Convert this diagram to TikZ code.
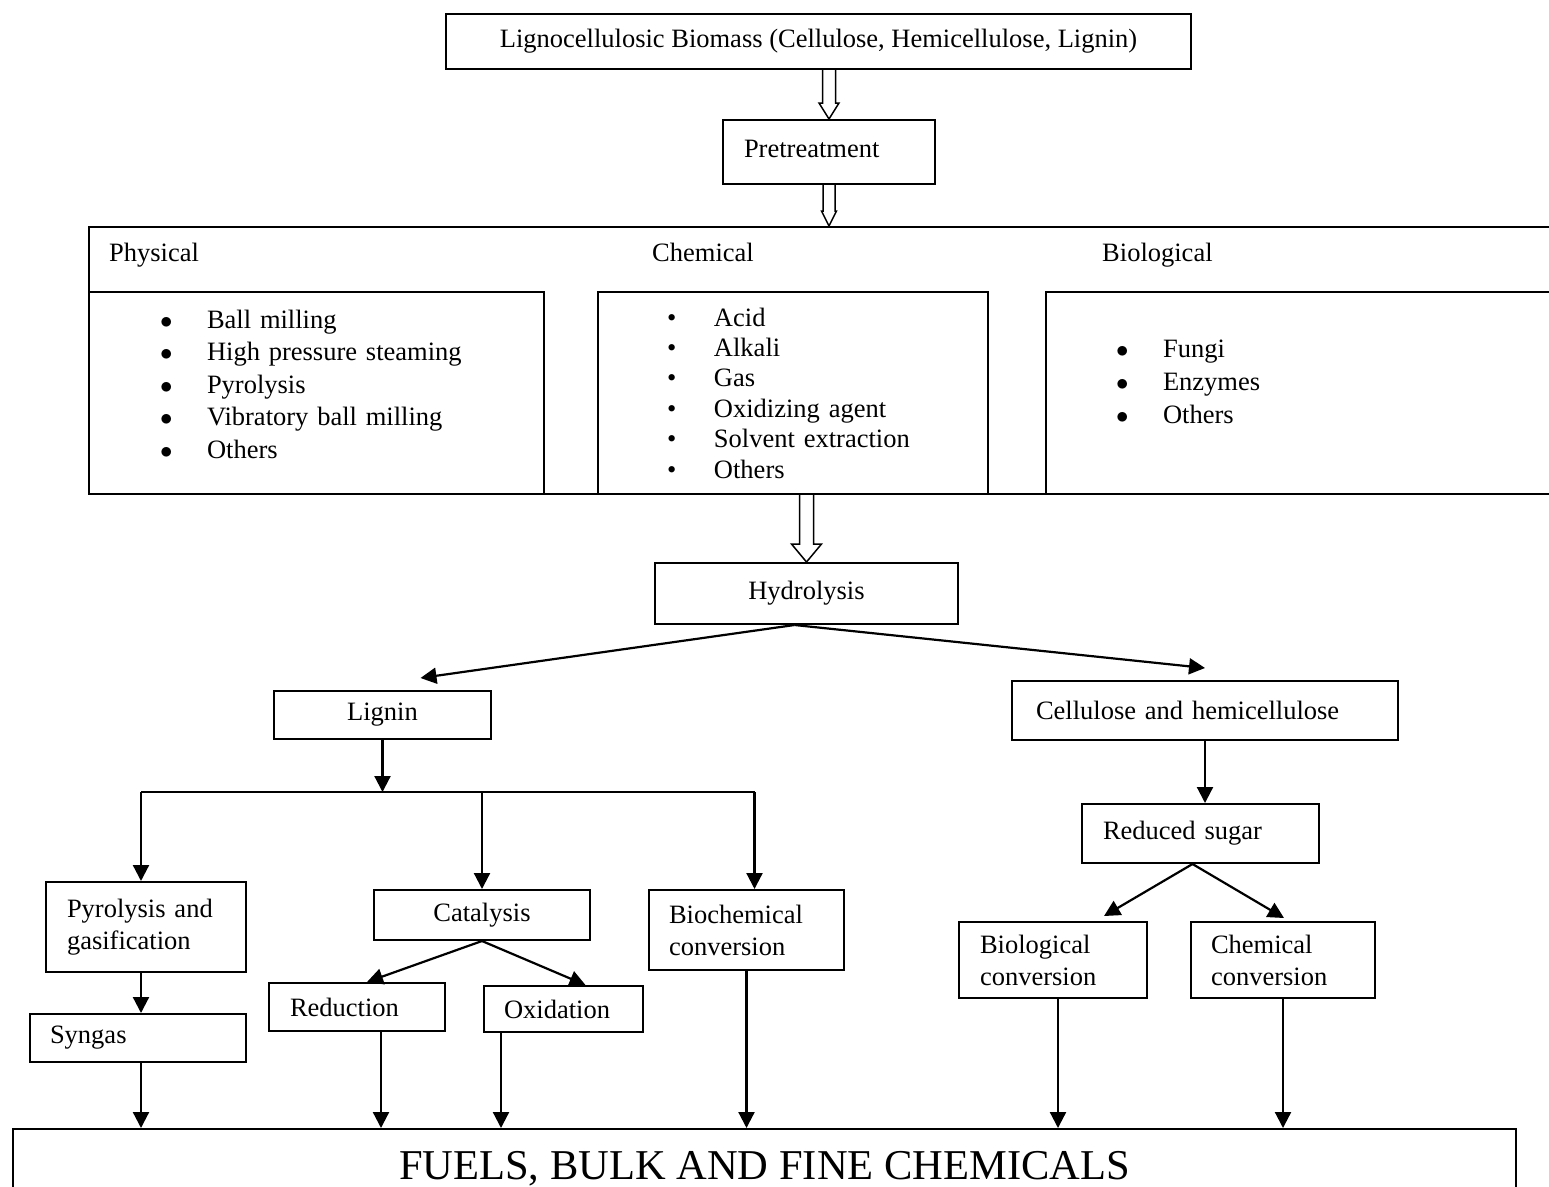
\documentclass[tikz,border=0pt]{standalone}
\usepackage{fontspec}
\setmainfont{Liberation Serif}
\usetikzlibrary{arrows.meta,calc}

% broad open arrow: start, tip, shaft half width, head half width, head length
\newcommand{\hollowarrow}[5]{%
  \draw[hollow] ($(#1)+(-#3,0)$) -- ($(#2)+(-#3,-#5)$) -- ($(#2)+(-#4,-#5)$) -- (#2)
    -- ($(#2)+(#4,-#5)$) -- ($(#2)+(#3,-#5)$) -- ($(#1)+(#3,0)$);}
\newcommand{\bigdot}{\makebox[47pt][l]{$\bullet$}}
\newcommand{\smalldot}{\makebox[47pt][l]{\textbullet}}

\begin{document}
\begin{tikzpicture}[x=1pt, y=-1pt,
    box/.style={draw, line width=2pt, anchor=north west, inner sep=0pt, align=left,
      font=\fontsize{26.5}{32}\selectfont},
    head/.style={anchor=base west, inner sep=0pt, font=\fontsize{26.5}{32}\selectfont},
    arr/.style={line width=2.2pt, -{Triangle[length=16pt,width=16pt]}},
    hollow/.style={line width=1.5pt, fill=white, line join=miter}]
    \useasboundingbox (0,0) rectangle (1549,1186);

    % Feedstock and pretreatment
    \node[box, minimum width=745pt, minimum height=55pt] (top) at (445,13)
        {Lignocellulosic Biomass (Cellulose, Hemicellulose, Lignin)};
    \node[box, minimum width=212pt, minimum height=64pt, text width=170pt,
        text height=18pt, text depth=8pt] (pre) at (722,119) {Pretreatment};

    % Pretreatment methods
    \node[box, minimum width=1480pt, minimum height=267pt] (methods) at (88,226) {};
    \node[head] (physhead) at (109,261) {Physical};
    \node[head] (chemhead) at (652,261) {Chemical};
    \node[head] (biohead) at (1102,261) {Biological};

    \node[box, minimum width=455pt, minimum height=202pt, text width=313pt,
        font=\fontsize{26.5}{32.5}\selectfont] (physsub) at (88,291)
        {\bigdot Ball milling\\ \bigdot High pressure steaming\\ \bigdot Pyrolysis\\
         \bigdot Vibratory ball milling\\ \bigdot Others\rule[-18pt]{0pt}{18pt}};
    \node[box, minimum width=390pt, minimum height=202pt, text width=252pt,
        font=\fontsize{26.5}{30.4}\selectfont] (chemsub) at (597,291)
        {\smalldot Acid\\ \smalldot Alkali\\ \smalldot Gas\\ \smalldot Oxidizing agent\\
         \smalldot Solvent extraction\\ \smalldot Others};
    \node[box, minimum width=520pt, minimum height=202pt, text width=380pt,
        font=\fontsize{26.5}{33}\selectfont] (biosub) at (1045,291)
        {\bigdot Fungi\\ \bigdot Enzymes\\ \bigdot Others\rule[-22pt]{0pt}{22pt}};

    % Hydrolysis and fractions
    \node[box, minimum width=303pt, minimum height=61pt] (hydro) at (654,562) {Hydrolysis};
    \node[box, minimum width=217pt, minimum height=48pt] (lignin) at (273,690) {Lignin};
    \node[box, minimum width=386pt, minimum height=59pt, text width=338pt] (cell) at (1011,680)
        {Cellulose and hemicellulose};

    % Lignin routes
    \node[box, minimum width=200pt, minimum height=90pt, text width=158pt] (pyro) at (45,881)
        {Pyrolysis and\\ gasification};
    \node[box, minimum width=216pt, minimum height=50pt] (cata) at (373,889) {Catalysis};
    \node[box, minimum width=195pt, minimum height=80pt, text width=155pt] (biochem) at (648,889)
        {Biochemical\\ conversion};
    \node[box, minimum width=216pt, minimum height=48pt, text width=176pt] (syngas) at (29,1013) {Syngas};
    \node[box, minimum width=176pt, minimum height=48pt, text width=134pt] (red) at (268,982) {Reduction};
    \node[box, minimum width=159pt, minimum height=46pt, text width=119pt] (oxi) at (483,985) {Oxidation};

    % Sugar routes
    \node[box, minimum width=237pt, minimum height=59pt, text width=195pt] (sugar) at (1081,803) {Reduced sugar};
    \node[box, minimum width=188pt, minimum height=76pt, text width=146pt] (bioconv) at (958,921)
        {Biological\\ conversion};
    \node[box, minimum width=184pt, minimum height=76pt, text width=144pt] (chemconv) at (1190,921)
        {Chemical\\ conversion};

    % Products
    \node[box, minimum width=1503pt, minimum height=72pt, text height=28pt, text depth=0pt,
        font=\fontsize{42.5}{50}\selectfont] (fuels) at (12,1128) {FUELS, BULK AND FINE CHEMICALS};

    % Broad arrows
    \hollowarrow{pre.north |- top.south}{pre.north}{6.5}{10}{16}
    \hollowarrow{pre.south}{pre.south |- methods.north}{6}{7.5}{15}
    \hollowarrow{hydro.north |- chemsub.south}{hydro.north}{7}{15}{18}

    % Hydrolysis split
    \draw[arr] ($(hydro.south)+(-12,0)$) -- ($(lignin.north)+(38,-12)$);
    \draw[arr] ($(hydro.south)+(-12,0)$) -- ($(cell.north)+(0,-12)$);

    % Lignin branch
    \coordinate (split) at ($(lignin.south)+(0,52)$);
    \draw[arr] (lignin.south) -- (split);
    \draw[line width=2.2pt] ($(pyro.north |- split)+(-5,0)$) -- ($(biochem.north |- split)+(8,0)$);
    \draw[arr] ($(pyro.north |- split)+(-5,0)$) -- ($(pyro.north)+(-5,0)$);
    \draw[arr] (cata.north |- split) -- (cata.north);
    \draw[arr] ($(biochem.north |- split)+(8,0)$) -- ($(biochem.north)+(8,0)$);
    \draw[arr] ($(pyro.south)+(-5,0)$) -- ($(pyro.south |- syngas.north)+(-5,0)$);
    \draw[arr] (cata.south) -- ($(red.north)+(10,0)$);
    \draw[arr] (cata.south) -- ($(oxi.north)+(22,0)$);

    % Cellulose branch
    \draw[arr] (cell.south) -- (cell.south |- sugar.north);
    \draw[arr] ($(sugar.south)+(-8,0)$) -- ($(bioconv.north)+(51,-5)$);
    \draw[arr] ($(sugar.south)+(-8,0)$) -- ($(chemconv.north)+(1,-3)$);

    % Down to products
    \draw[arr] ($(syngas.south)+(3,0)$) -- ($(syngas.south |- fuels.north)+(3,0)$);
    \draw[arr] ($(red.south)+(24,0)$) -- ($(red.south |- fuels.north)+(24,0)$);
    \draw[arr] ($(oxi.south west)+(18,0)$) -- ($(oxi.south west |- fuels.north)+(18,0)$);
    \draw[arr] (biochem.south) -- (biochem.south |- fuels.north);
    \draw[arr] ($(bioconv.south)+(5,0)$) -- ($(bioconv.south |- fuels.north)+(5,0)$);
    \draw[arr] (chemconv.south) -- (chemconv.south |- fuels.north);

\end{tikzpicture}
\end{document}
